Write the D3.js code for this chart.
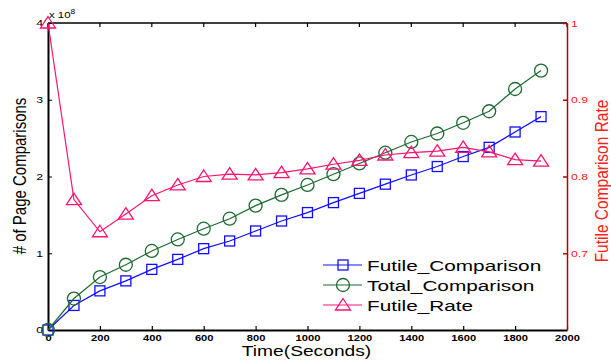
<!DOCTYPE html>
<html>
<head>
<meta charset="utf-8">
<script src="https://cdn.jsdelivr.net/npm/d3@7"></script>
<style>
  body { margin: 0; background: #fff; }
  svg text { font-family: "Liberation Sans", Arial, sans-serif; }
</style>
</head>
<body>
<svg id="chart" width="611" height="360"></svg>
<script>
var timeList = [0, 100, 200, 300, 400, 500, 600, 700, 800, 900, 1000, 1100, 1200, 1300, 1400, 1500, 1600, 1700, 1800, 1900];
// in units of 1e8
var futileList = [0, 0.32, 0.51, 0.64, 0.79, 0.92, 1.06, 1.16, 1.29, 1.42, 1.53, 1.66, 1.78, 1.90, 2.02, 2.13, 2.26, 2.38, 2.58, 2.78];
var totalList = [0, 0.41, 0.69, 0.85, 1.03, 1.18, 1.32, 1.45, 1.62, 1.76, 1.89, 2.03, 2.17, 2.31, 2.45, 2.56, 2.70, 2.85, 3.14, 3.38];
var rateList = [1.0, 0.77, 0.728, 0.751, 0.775, 0.789, 0.80, 0.803, 0.802, 0.805, 0.810, 0.816, 0.821, 0.828, 0.831, 0.833, 0.838, 0.832, 0.822, 0.820];
var xTicks = [0, 200, 400, 600, 800, 1000, 1200, 1400, 1600, 1800, 2000];
var yTicks = [0, 1, 2, 3, 4];
var rTicks = [0.7, 0.8, 0.9, 1];
var seriesNames = ["Futile_Comparison", "Total_Comparison", "Futile_Rate"];

var blue = "#1010ff", green = "#1e6b30", pink = "#ff1470", darkRed = "#b80000", red = "#ff2020";
var stretch = 1.3; // the reference's horizontal text is wide

var svg = d3.select("svg");
var margin = { top: 23, right: 44, bottom: 30, left: 48 };
var width = +svg.attr("width") - margin.left - margin.right;
var height = +svg.attr("height") - margin.top - margin.bottom;

var x = d3.scaleLinear().domain([0, 2000]).range([0, width]);
var y = d3.scaleLinear().domain([0, 4]).range([height, 0]);
var yr = d3.scaleLinear().domain([0.6, 1]).range([height, 0]);

// widen axis tick labels in place
function widen(sel, k) {
    sel.each(function () {
        var t = d3.select(this);
        var tx = +t.attr("x") || 0;
        t.attr("x", tx / k).attr("transform", "scale(" + k + ",1)");
    });
}

var g = svg.append("g")
    .attr("transform", "translate(" + margin.left + "," + margin.top + ")");

// frame: top
g.append("line").attr("x1", 0).attr("x2", width).attr("y1", 0).attr("y2", 0)
    .attr("stroke", "#000").attr("stroke-width", 1.5);
g.selectAll(".ttick").data(xTicks).enter().append("line")
    .attr("x1", function (d) { return x(d); }).attr("x2", function (d) { return x(d); })
    .attr("y1", 0).attr("y2", 4).attr("stroke", "#000").attr("stroke-width", 1.2);

// bottom axis
var xa = g.append("g")
    .attr("transform", "translate(0," + height + ")")
    .call(d3.axisBottom(x).tickValues(xTicks).tickFormat(d3.format("d")).tickSizeInner(-4).tickSizeOuter(0).tickPadding(5));
xa.select(".domain").attr("stroke-width", 2);
xa.selectAll("text").style("font-weight", "bold").style("font-size", "8.6px");
widen(xa.selectAll("text"), stretch);
xa.selectAll(".tick line").attr("stroke-width", 1.2);

// left axis
var ya = g.append("g")
    .call(d3.axisLeft(y).tickValues(yTicks).tickFormat(d3.format("d")).tickSizeInner(-4).tickSizeOuter(0).tickPadding(5));
ya.select(".domain").attr("stroke-width", 2);
ya.selectAll("text").style("font-size", "9.5px").attr("dy", "0.3em");
widen(ya.selectAll("text"), stretch);

// right axis
var ra = g.append("g")
    .attr("transform", "translate(" + width + ",0)")
    .call(d3.axisRight(yr).tickValues(rTicks).tickFormat(function (d) { return d === 1 ? "1" : d3.format(".1f")(d); })
        .tickSizeInner(-4).tickSizeOuter(0).tickPadding(4));
ra.select(".domain").attr("stroke", darkRed).attr("stroke-width", 1.5);
ra.selectAll(".tick line").attr("stroke", darkRed).attr("stroke-width", 1.5);
ra.selectAll("text").attr("fill", red).style("font-size", "9.5px");
widen(ra.selectAll("text"), stretch);

// titles
svg.append("text").attr("transform", "translate(306.5,356) scale(1.24,1)")
    .attr("text-anchor", "middle").style("font-size", "15.5px").text("Time(Seconds)");
svg.append("text").attr("transform", "translate(26,176) rotate(-90) scale(1,1.25)")
    .attr("text-anchor", "middle").style("font-size", "15px").text("# of Page Comparisons");
svg.append("text").attr("transform", "translate(608,181) rotate(-90) scale(1,1.2)")
    .attr("text-anchor", "middle").style("font-size", "15.5px").attr("fill", red).text("Futile Comparison Rate");
var exp = svg.append("text").attr("transform", "translate(49,18) scale(1.2,1)").style("font-size", "9.5px");
exp.append("tspan").text("x 10");
exp.append("tspan").attr("dy", -4).style("font-size", "7px").text("8");

// markers
function square(sel, c) {
    sel.append("rect").attr("x", -5).attr("y", -5).attr("width", 10).attr("height", 10)
        .attr("fill", "none").attr("stroke", c).attr("stroke-width", 1.3);
}
function circle(sel, c) {
    sel.append("circle").attr("r", 6.5).attr("fill", "none").attr("stroke", c).attr("stroke-width", 1.3);
}
function triangle(sel, c) {
    sel.append("path").attr("d", "M0,-6.5L7.5,5L-7.5,5Z")
        .attr("fill", "none").attr("stroke", c).attr("stroke-width", 1.3);
}

var series = [
    { vals: futileList, sc: y, color: blue, mark: square },
    { vals: totalList, sc: y, color: green, mark: circle },
    { vals: rateList, sc: yr, color: pink, mark: triangle }
];

var plot = g.append("g");
series.forEach(function (s) {
    var line = d3.line()
        .x(function (d, i) { return x(timeList[i]); })
        .y(function (d) { return s.sc(d); });
    plot.append("path").datum(s.vals)
        .attr("d", line).attr("fill", "none").attr("stroke", s.color).attr("stroke-width", 1.2);
    plot.selectAll(null).data(s.vals).enter().append("g")
        .attr("transform", function (d, i) { return "translate(" + x(timeList[i]) + "," + s.sc(d) + ")"; })
        .each(function () { s.mark(d3.select(this), s.color); });
});

// legend
var leg = svg.append("g").attr("transform", "translate(323,265)");
series.forEach(function (s, i) {
    var row = leg.append("g").attr("transform", "translate(0," + (i * 20) + ")");
    row.append("line").attr("x1", 0).attr("x2", 39).attr("stroke", s.color).attr("stroke-width", 1.2);
    var m = row.append("g").attr("transform", "translate(20,0)");
    s.mark(m, s.color);
    row.append("text").attr("transform", "translate(44,5.5) scale(1.34,1)")
        .style("font-size", "15.5px").text(seriesNames[i]);
});
</script>
</body>
</html>
